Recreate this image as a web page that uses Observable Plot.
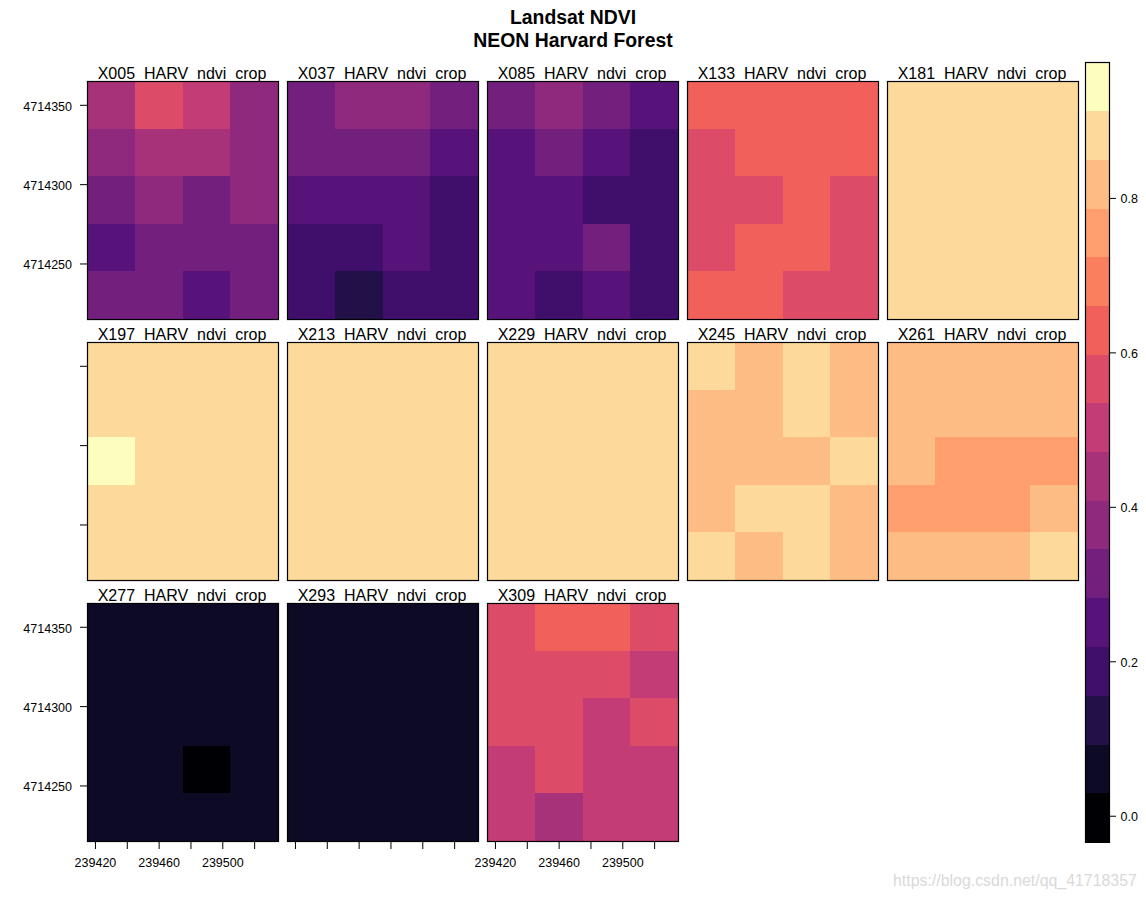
<!DOCTYPE html>
<html>
<head>
<meta charset="utf-8">
<script src="https://cdn.jsdelivr.net/npm/d3@7"></script>
<script src="https://cdn.jsdelivr.net/npm/@observablehq/plot@0.6"></script>
<style>
  html, body { margin: 0; padding: 0; background: #fff; overflow: hidden; }
  body { position: relative; width: 1146px; height: 900px; font-family: "Liberation Sans", Arial, sans-serif; color: #000; }
  #title { height: 54px; padding-top: 6px; box-sizing: border-box; text-align: center; font-weight: bold; font-size: 19.4px; line-height: 23px; }
  #bar { position: absolute; left: 1084px; top: 61px; }
  #mark { position: absolute; left: 893px; top: 872px; font-size: 15.9px; color: #d9d9d9; }
  svg { display: block; }
</style>
</head>
<body>
<div id="title">Landsat NDVI<br>NEON Harvard Forest</div>
<div id="chart"></div>
<div id="bar"></div>
<div id="mark">https://blog.csdn.net/qq_41718357</div>
<script>
const layerNames = ["X005_HARV_ndvi_crop","X037_HARV_ndvi_crop","X085_HARV_ndvi_crop","X133_HARV_ndvi_crop","X181_HARV_ndvi_crop",
  "X197_HARV_ndvi_crop","X213_HARV_ndvi_crop","X229_HARV_ndvi_crop","X245_HARV_ndvi_crop","X261_HARV_ndvi_crop",
  "X277_HARV_ndvi_crop","X293_HARV_ndvi_crop","X309_HARV_ndvi_crop"];

// NDVI per raster cell, row by row from north to south (4 columns, 5 rows)
const X005 = [.44,.57,.50,.38, .38,.44,.44,.38, .31,.38,.31,.38, .25,.31,.31,.31, .31,.31,.25,.31];
const X037 = [.31,.38,.38,.31, .31,.31,.31,.25, .25,.25,.25,.19, .19,.19,.25,.19, .19,.12,.19,.19];
const X085 = [.31,.38,.31,.25, .25,.31,.25,.19, .25,.25,.19,.19, .25,.25,.31,.19, .25,.19,.25,.19];
const X133 = [.63,.63,.63,.63, .57,.63,.63,.63, .57,.57,.63,.57, .57,.63,.63,.57, .63,.63,.57,.57];
const X181 = [.88,.88,.88,.88, .88,.88,.88,.88, .88,.88,.88,.88, .88,.88,.88,.88, .88,.88,.88,.88];
const X197 = [.88,.88,.88,.88, .88,.88,.88,.88, .94,.88,.88,.88, .88,.88,.88,.88, .88,.88,.88,.88];
const X213 = [.88,.88,.88,.88, .88,.88,.88,.88, .88,.88,.88,.88, .88,.88,.88,.88, .88,.88,.88,.88];
const X229 = [.88,.88,.88,.88, .88,.88,.88,.88, .88,.88,.88,.88, .88,.88,.88,.88, .88,.88,.88,.88];
const X245 = [.88,.82,.88,.82, .82,.82,.88,.82, .82,.82,.82,.88, .82,.88,.88,.82, .88,.82,.88,.82];
const X261 = [.82,.82,.82,.82, .82,.82,.82,.82, .82,.75,.75,.75, .75,.75,.75,.82, .82,.82,.82,.88];
const X277 = [.06,.06,.06,.06, .06,.06,.06,.06, .06,.06,.06,.06, .06,.06,.00,.06, .06,.06,.06,.06];
const X293 = [.06,.06,.06,.06, .06,.06,.06,.06, .06,.06,.06,.06, .06,.06,.06,.06, .06,.06,.06,.06];
const X309 = [.57,.63,.63,.57, .57,.57,.57,.50, .57,.57,.50,.57, .50,.57,.50,.50, .50,.44,.50,.50];
const layers = [X005,X037,X085,X133,X181,X197,X213,X229,X245,X261,X277,X293,X309];

const breaks = [-0.034,0.029,0.092,0.155,0.218,0.282,0.345,0.408,0.471,0.534,0.597,0.660,0.723,0.786,0.849,0.912,0.976];
const colors = ["#000004","#0D0A25","#221048","#3F0F6B","#57137A","#731F7E","#8F297D","#A83279","#C43C75","#DC4C69","#F2605C","#FA7F5F","#FE9F6D","#FEBC85","#FDD99B","#FDFDBD"];
const xTicks = [239420,239440,239460,239480,239500,239520];
const xLabelled = [239420,239460,239500];
const yTicks = [4714250,4714300,4714350];
const barTicks = [0,0.2,0.4,0.6,0.8];

const xDomain = [239415,239535];
const yDomain = [4714215,4714365];
const cellSize = 30;

const colorScale = {type:"threshold", domain: breaks.slice(1,-1), range: colors};

const cells = layers.flatMap((vals,i) => vals.map((v,j) => {
  const c = j % 4, r = Math.floor(j / 4);
  return {
    col: i % 5, row: Math.floor(i / 5), v,
    x1: xDomain[0] + c * cellSize, x2: xDomain[0] + (c + 1) * cellSize,
    y1: yDomain[1] - r * cellSize, y2: yDomain[1] - (r + 1) * cellSize
  };
}));
const panels = layerNames.map((name,i) => ({name, col: i % 5, row: Math.floor(i / 5)}));

const font = {fontFamily:"Liberation Sans, Arial, sans-serif"};

const xAxis = (col, labelled) => Plot.axisX(xTicks, {
  fx: () => col, fy: () => 2, anchor:"bottom", label:null, tickSize:8, tickPadding:9, fontSize:12.5,
  tickFormat: d => labelled && xLabelled.includes(d) ? String(d) : "", facetAnchor:null, stroke:"#000", fill:"#000", strokeWidth:1
});
// ticks and labels are separate: the labels sit slightly below their ticks
const yTickMarks = row => Plot.axisY(yTicks, {
  fx: () => 0, fy: () => row, anchor:"left", label:null, tickSize:7, tickFormat: () => "",
  facetAnchor:null, stroke:"#000", fill:"#000", strokeWidth:1
});
const yLabels = row => Plot.axisY(yTicks, {
  fx: () => 0, fy: () => row, anchor:"left", label:null, tickSize:0, tickPadding:15.5, fontSize:12.5, dy:1.5,
  tickFormat: d => String(d), facetAnchor:null, stroke:"none", fill:"#000"
});

const chart = Plot.plot({
  width:1146, height:842,
  marginLeft:87, marginRight:68, marginTop:27, marginBottom:55,
  style:{...font, background:"#fff", color:"#000"},
  fx:{domain:[0,1,2,3,4], paddingInner:0.045, paddingOuter:0, round:false, axis:null, label:null},
  fy:{domain:[0,1,2], paddingInner:0.088, paddingOuter:0, round:false, axis:null, label:null},
  x:{domain:xDomain, axis:null, label:null},
  y:{domain:yDomain, axis:null, label:null},
  color:colorScale,
  marks:[
    Plot.text(panels, {x:() => (xDomain[0]+xDomain[1])/2, y:() => yDomain[1], fx:"col", fy:"row", text:"name",
      fontSize:16, dy:-7.7, dx:-1, fill:"#000", textAnchor:"middle"}),
    Plot.rect(cells, {x1:"x1", x2:"x2", y1:"y1", y2:"y2", fx:"col", fy:"row", fill:"v", shapeRendering:"crispEdges"}),
    Plot.frame({stroke:"#000", strokeWidth:1.2}),
    xAxis(0,true), xAxis(1,false), xAxis(2,true),
    yTickMarks(0), yTickMarks(1), yTickMarks(2),
    yLabels(0), yLabels(2)
  ]
});
document.getElementById("chart").append(chart);

const bands = colors.map((c,i) => ({lo:breaks[i], hi:breaks[i+1], mid:(breaks[i]+breaks[i+1])/2}));
const bar = Plot.plot({
  width:62, height:782,
  marginLeft:1, marginRight:37, marginTop:1, marginBottom:1,
  style:{...font, background:"transparent", color:"#000"},
  y:{domain:[breaks[0],breaks[breaks.length-1]], axis:null, label:null},
  color:colorScale,
  marks:[
    Plot.rect(bands, {y1:"lo", y2:"hi", fill:"mid", shapeRendering:"crispEdges"}),
    Plot.frame({stroke:"#000", strokeWidth:1.2}),
    Plot.axisY(barTicks, {anchor:"right", label:null, tickSize:6, tickFormat:() => "", stroke:"#000"}),
    Plot.axisY(barTicks, {anchor:"right", label:null, tickSize:0, tickPadding:11, fontSize:12.5, dy:1, tickFormat:d3.format(".1f"), stroke:"none", fill:"#000"})
  ]
});
document.getElementById("bar").append(bar);
</script>
</body>
</html>
